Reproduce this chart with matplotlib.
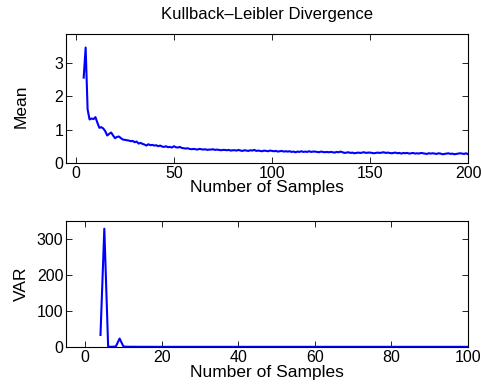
import numpy as np
import matplotlib
matplotlib.use('Agg')
import matplotlib.pyplot as plt

plt.rcParams['font.family'] = ['Liberation Sans', 'DejaVu Sans']

# mean of KL divergence, samples 4..200
nMean = np.arange(4, 201)
klMean = [2.55, 3.45, 1.60, 1.30, 1.33, 1.31, 1.37, 1.20, 1.05, 1.07,
          1.03, 0.95, 0.82, 0.87, 0.91, 0.82, 0.74, 0.78, 0.79, 0.74,
          0.70, 0.69, 0.68, 0.67, 0.65, 0.66, 0.62, 0.64, 0.58, 0.60,
          0.57, 0.55, 0.52, 0.56, 0.53, 0.54, 0.52, 0.53, 0.50, 0.52,
          0.49, 0.48, 0.50, 0.47, 0.48, 0.46, 0.50, 0.47, 0.46, 0.48,
          0.45, 0.44, 0.43, 0.44, 0.42, 0.41, 0.42, 0.41, 0.40, 0.42,
          0.41, 0.40, 0.41, 0.39, 0.40, 0.40, 0.41, 0.39, 0.40, 0.39,
          0.38, 0.39, 0.39, 0.38, 0.39, 0.37, 0.38, 0.38, 0.37, 0.39,
          0.37, 0.36, 0.38, 0.37, 0.36, 0.38, 0.37, 0.39, 0.36, 0.37,
          0.36, 0.35, 0.37, 0.36, 0.35, 0.37, 0.36, 0.35, 0.36, 0.34,
          0.35, 0.36, 0.34, 0.35, 0.34, 0.35, 0.33, 0.34, 0.32, 0.34,
          0.33, 0.35, 0.33, 0.34, 0.33, 0.35, 0.33, 0.34, 0.34, 0.33,
          0.32, 0.34, 0.33, 0.32, 0.33, 0.32, 0.33, 0.32, 0.31, 0.33,
          0.32, 0.34, 0.32, 0.30, 0.31, 0.32, 0.30, 0.31, 0.29, 0.30,
          0.31, 0.30, 0.31, 0.32, 0.30, 0.31, 0.31, 0.30, 0.29, 0.30,
          0.31, 0.30, 0.31, 0.32, 0.30, 0.31, 0.30, 0.29, 0.30, 0.31,
          0.29, 0.30, 0.28, 0.30, 0.29, 0.30, 0.28, 0.29, 0.30, 0.28,
          0.29, 0.28, 0.30, 0.29, 0.28, 0.27, 0.29, 0.28, 0.29, 0.28,
          0.27, 0.29, 0.28, 0.26, 0.27, 0.28, 0.29, 0.27, 0.28, 0.26,
          0.27, 0.28, 0.29, 0.28, 0.27, 0.29, 0.26]

# variance, samples 4..100
nVar = np.arange(4, 101)
klVar = [33, 328, 0.5, 0.3, 1.0, 23, 1.0, 0.4, 0.3, 0.3,
         0.2, 0.2, 0.2, 0.2, 0.1, 0.1, 0.1, 0.1, 0.1, 0.1,
         0.1, 0.1, 0.1, 0.1, 0.1, 0.1, 0.1, 0.1, 0.1, 0.1,
         0.1, 0.1, 0.1, 0.1, 0.1, 0.1, 0.1, 0.1, 0.1, 0.1,
         0.1, 0.1, 0.1, 0.1, 0.1, 0.1, 0.1, 0.1, 0.1, 0.1,
         0.1, 0.1, 0.1, 0.1, 0.1, 0.1, 0.1, 0.1, 0.1, 0.1,
         0.1, 0.1, 0.1, 0.1, 0.1, 0.1, 0.1, 0.1, 0.1, 0.1,
         0.1, 0.1, 0.1, 0.1, 0.1, 0.1, 0.1, 0.1, 0.1, 0.1,
         0.1, 0.1, 0.1, 0.1, 0.1, 0.1, 0.1, 0.1, 0.1, 0.1,
         0.1, 0.1, 0.1, 0.1, 0.1, 0.1, 0.1]

fig = plt.figure(figsize=(4.82, 3.88), dpi=100)

def style(ax):
    ax.tick_params(direction='in', top=True, right=True, length=4,
                   width=0.6, labelsize=11.5, pad=2)
    for s in ax.spines.values():
        s.set_linewidth(0.8)

ax1 = fig.add_axes([0.137, 0.580, 0.834, 0.332])
ax1.plot(nMean, klMean, color='#0000ff', lw=1.5)
ax1.set_xlim(-5, 200)
ax1.set_ylim(0, 3.85)
ax1.set_xticks([0, 50, 100, 150, 200])
ax1.set_yticks([0, 1, 2, 3])
ax1.set_xlabel('Number of Samples', fontsize=12.5)
ax1.xaxis.set_label_coords(0.5, -0.13)
ax1.set_ylabel('Mean', fontsize=12.5)
ax1.yaxis.set_label_coords(-0.093, 0.44)
ax1.set_title('Kullback\u2013Leibler Divergence', fontsize=12, pad=11)
style(ax1)

ax2 = fig.add_axes([0.137, 0.106, 0.834, 0.325])
ax2.plot(nVar, klVar, color='#0000ff', lw=1.5)
ax2.set_xlim(-5, 100)
ax2.set_ylim(0, 350)
ax2.set_xticks([0, 20, 40, 60, 80, 100])
ax2.set_yticks([0, 100, 200, 300])
ax2.set_xlabel('Number of Samples', fontsize=12.5)
ax2.xaxis.set_label_coords(0.5, -0.14)
ax2.set_ylabel('VAR', fontsize=12.5)
ax2.yaxis.set_label_coords(-0.093, 0.5)
style(ax2)

fig.savefig('out.png', dpi=100)
